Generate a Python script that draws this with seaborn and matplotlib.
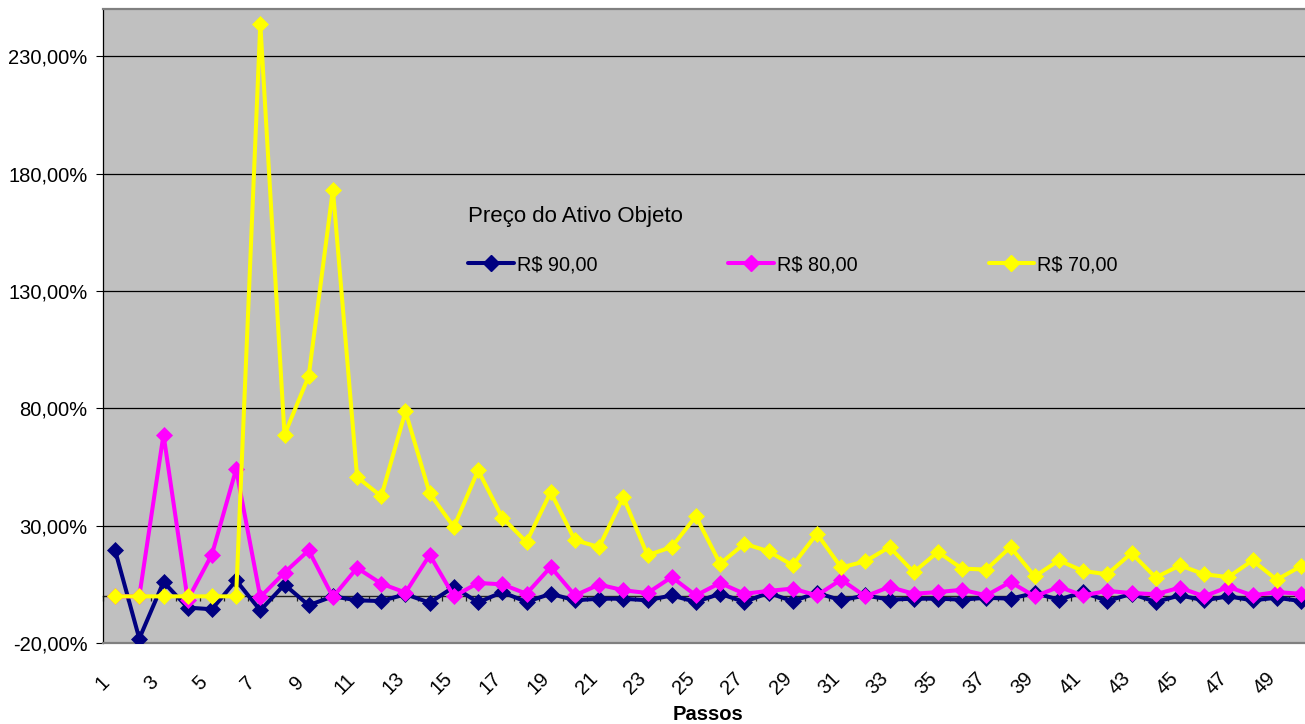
import matplotlib
matplotlib.use("Agg")
import matplotlib.pyplot as plt
import matplotlib.transforms as mtransforms
from matplotlib.lines import Line2D
import numpy as np
import pandas as pd
import seaborn as sns

# Simulated return (%) per step for each underlying asset price
steps = list(range(1, 51))
r90 = [19.6, -18.0, 6.1, -4.8, -5.5, 6.8, -6.0, 5.0, -3.8, 0.0,
       -1.7, -2.0, 0.9, -2.7, 4.0, -2.6, 1.8, -2.4, 1.1, -1.7,
       -1.0, -1.0, -1.7, 0.4, -2.4, 1.1, -2.4, 1.5, -2.1, 1.5,
       -1.7, 0.4, -1.4, -1.0, -1.0, -1.4, -0.6, -1.0, 1.4, -1.4,
       1.8, -2.0, 1.1, -2.4, 0.4, -1.7, 0.0, -1.7, -0.6, -2.0]
r80 = [0.0, 0.0, 68.9, -1.5, 17.8, 54.1, -0.3, 10.1, 19.6, -0.3,
       12.1, 5.4, 1.6, 17.6, 0.0, 5.7, 5.1, 1.1, 12.5, 0.4,
       5.0, 2.6, 1.4, 8.2, 0.4, 5.7, 1.1, 2.3, 3.3, 0.4,
       7.1, 0.0, 4.0, 1.1, 1.8, 2.8, 0.4, 6.1, 0.0, 4.0,
       0.4, 2.3, 1.4, 0.9, 3.7, 0.0, 4.0, 0.4, 1.8, 1.1]
r70 = [0.0, 0.0, 0.0, 0.0, 0.0, 0.0, 243.9, 68.8, 93.8, 173.2,
       50.8, 42.6, 78.8, 43.8, 29.5, 53.7, 33.5, 23.1, 44.4, 23.9,
       21.0, 42.3, 17.5, 21.0, 34.1, 13.9, 22.4, 19.2, 13.2, 26.7,
       12.3, 14.9, 21.0, 10.3, 18.9, 11.8, 11.4, 21.0, 8.5, 15.3,
       10.8, 9.4, 18.4, 8.0, 13.2, 9.4, 8.2, 15.3, 7.1, 12.8]

series_labels = ["R$ 90,00", "R$ 80,00", "R$ 70,00"]
series_colors = ["#000080", "#FF00FF", "#FFFF00"]
legend_title = "Preço do Ativo Objeto"
x_label = "Passos"
y_ticks = [-20, 30, 80, 130, 180, 230]
x_tick_steps = steps[::2]

df = pd.DataFrame({
    "Passos": steps * 3,
    "Retorno": r90 + r80 + r70,
    "Preço": [lab for lab in series_labels for _ in steps],
})

sns.set_style("white")
plt.rcParams["font.family"] = ["Liberation Sans", "DejaVu Sans"]
for key in ["text.color", "axes.labelcolor", "xtick.color", "ytick.color"]:
    plt.rcParams[key] = "black"

W, H = 1305, 724
fig = plt.figure(figsize=(W / 100, H / 100), dpi=100)
ax_w_px = 1210
ax = fig.add_axes([103 / W, (H - 643.3) / H, ax_w_px / W, 634 / H])
ax.set_facecolor("#C0C0C0")

sns.lineplot(data=df, x="Passos", y="Retorno", hue="Preço",
             hue_order=series_labels, palette=series_colors,
             marker="D", markersize=7.8, linewidth=2.9,
             legend=False, ax=ax, zorder=3)
for line, c in zip(ax.lines, series_colors):
    line.set_markeredgecolor(c)
    line.set_markerfacecolor(c)
    line.set_markeredgewidth(0.5)

ax.set_xlim(0.5, len(steps) + 0.5)
ax.set_ylim(-20, 250)

# value axis
ax.set_yticks(y_ticks)
ax.set_yticklabels([f"{v:.2f}".replace(".", ",") + "%" for v in y_ticks])
ax.tick_params(axis="y", direction="out", length=5, width=0.8,
               color="black", labelsize=14.5, pad=6, left=True)
ax.yaxis.grid(True, color="black", linewidth=0.9)
ax.set_axisbelow(True)

# category labels at the bottom, centred on the category boundaries
ax.set_xticks(x_tick_steps)
ax.set_xticklabels([str(s) for s in x_tick_steps], rotation=45,
                   ha="center", va="center")
ax.tick_params(axis="x", length=0, labelsize=14.5, pad=29)
half_cat = ax_w_px / len(steps) / 2 / 100
shift = mtransforms.ScaledTranslation(-half_cat, 0, fig.dpi_scale_trans)
for lab in ax.get_xticklabels():
    lab.set_transform(lab.get_transform() + shift)

ax.set_xlabel(x_label, fontsize=14.5, fontweight="bold")
ax.xaxis.set_label_coords(0.5, -0.1125)
ax.xaxis.label.set_va("center")
ax.set_ylabel("")

for side in ["top", "bottom"]:
    ax.spines[side].set_color("#808080")
    ax.spines[side].set_linewidth(1.6)
ax.spines["left"].set_color("black")
ax.spines["left"].set_linewidth(0.9)
ax.spines["right"].set_visible(False)

# category axis crossing at zero, with ticks between categories
y0, y1 = ax.get_ylim()
sec = ax.secondary_xaxis((0 - y0) / (y1 - y0))
sec.set_xticks(np.arange(0.5, len(steps) + 1, 1.0))
sec.set_xticklabels([])
sec.tick_params(axis="x", direction="out", length=3.5, width=0.9,
                color="#202020")
sec.spines["bottom"].set_color("#202020")
sec.spines["bottom"].set_linewidth(1.0)
sec.set_zorder(1)

handles = [Line2D([], [], color=c, linewidth=2.9, marker="D",
                  markersize=7.8, markeredgecolor=c)
           for c in series_colors]
leg = ax.legend(handles, series_labels, title=legend_title, ncol=3,
                frameon=False, loc="upper left",
                bbox_to_anchor=(0.2934, 0.705), alignment="left",
                fontsize=14.3, title_fontsize=16, handlelength=2.3,
                handletextpad=0.15, columnspacing=6.6, labelspacing=1.4,
                borderpad=0)

fig.savefig("out.png", dpi=100)
